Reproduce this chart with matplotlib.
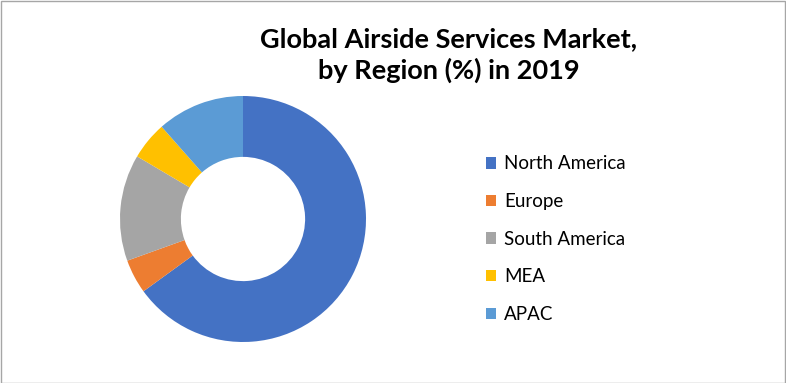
import matplotlib.pyplot as plt
from matplotlib.patches import Rectangle

regions = ['North America', 'Europe', 'South America', 'MEA', 'APAC']
shares = [65.0, 4.5, 14.0, 5.0, 11.5]
colors = ['#4472C4', '#ED7D31', '#A5A5A5', '#FFC000', '#5B9BD5']

W, H = 786, 383
fig = plt.figure(figsize=(W / 100, H / 100), dpi=100)
plt.rcParams['font.family'] = ['Lato', 'DejaVu Sans']

# donut axes: centre ~(243, 219) px, outer radius ~123 px
ax = fig.add_axes([(243 - 123) / W, (H - 219 - 123) / H, 246 / W, 246 / H])
wedges, _ = ax.pie(shares, colors=colors, startangle=90, counterclock=False,
                   radius=1.0, wedgeprops=dict(width=0.495, linewidth=0))
ax.set_xlim(-1, 1)
ax.set_ylim(-1, 1)
ax.set_aspect('equal')
ax.axis('off')

fig.text(449 / W, 1 - 55 / H, 'Global Airside Services Market,\nby Region (%) in 2019',
         ha='center', va='center', fontsize=19.5, fontweight='bold',
         linespacing=1.3)

fig.legend(wedges, regions, loc='upper left', bbox_to_anchor=(478 / W, 1 - 148 / H),
           frameon=False, fontsize=13.5, handlelength=0.55, handleheight=0.55,
           handletextpad=0.45, labelspacing=1.1, borderaxespad=0)

# thin grey frame around the whole picture
fig.patches.append(Rectangle((0.5 / W, 0.5 / H), 1 - 1.5 / W, 1 - 1.5 / H,
                             transform=fig.transFigure, fill=False,
                             edgecolor='#A6A6A6', linewidth=1))

fig.savefig('out.png', dpi=100)
